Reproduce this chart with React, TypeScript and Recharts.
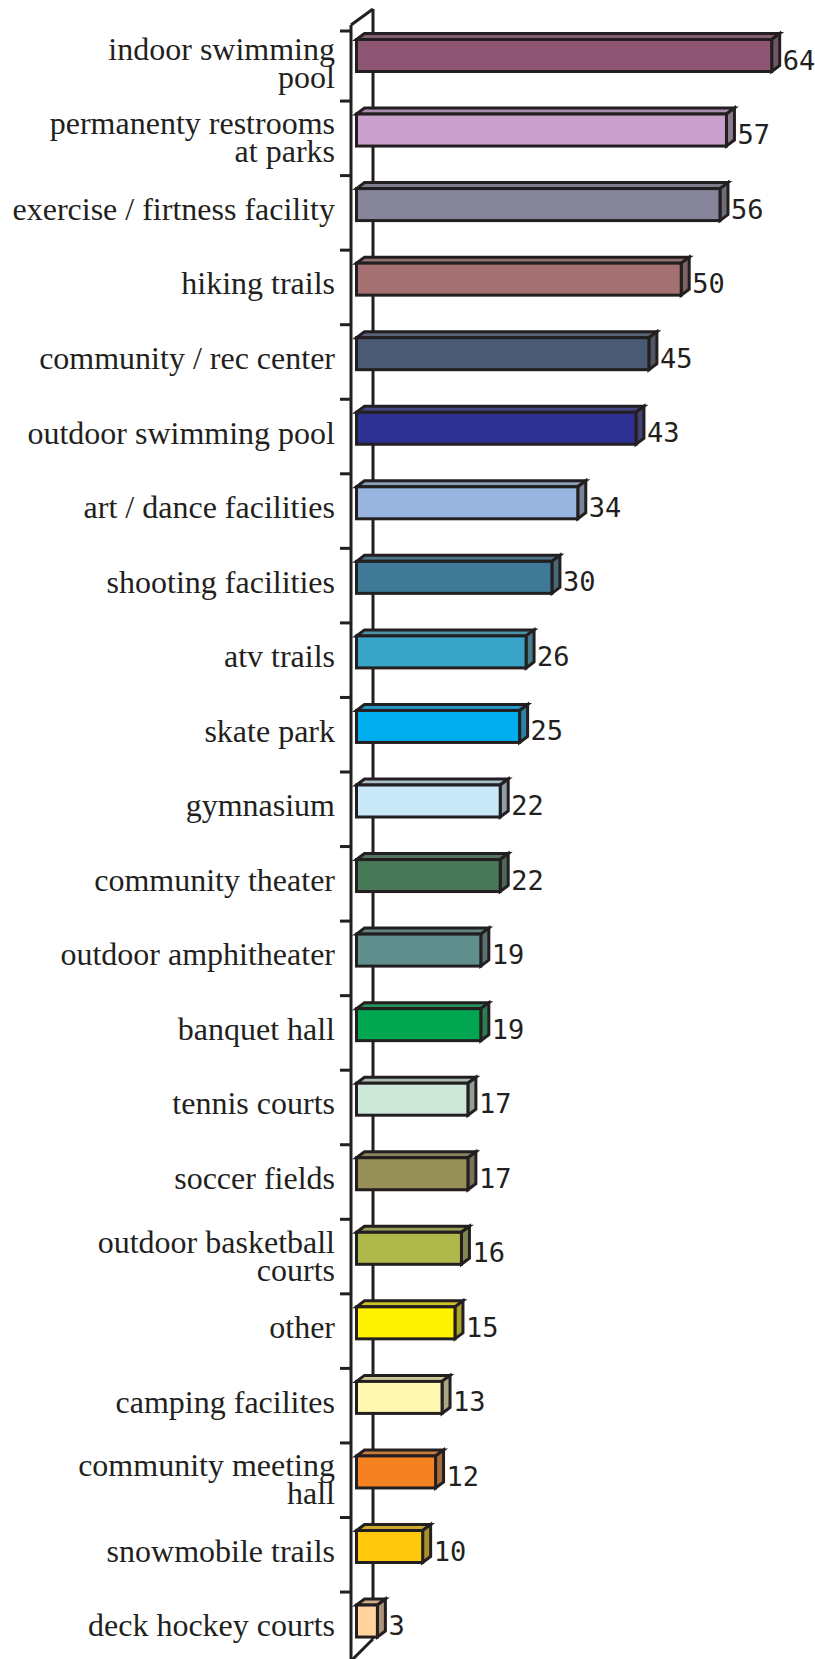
import React from "react";
import { Bar, BarChart, Customized, LabelList, XAxis, YAxis } from "recharts";

const categories = [
  "indoor swimming\npool",
  "permanenty restrooms\nat parks",
  "exercise / firtness facility",
  "hiking trails",
  "community / rec center",
  "outdoor swimming pool",
  "art / dance facilities",
  "shooting facilities",
  "atv trails",
  "skate park",
  "gymnasium",
  "community theater",
  "outdoor amphitheater",
  "banquet hall",
  "tennis courts",
  "soccer fields",
  "outdoor basketball\ncourts",
  "other",
  "camping facilites",
  "community meeting\nhall",
  "snowmobile trails",
  "deck hockey courts",
];

const votes = [64, 57, 56, 50, 45, 43, 34, 30, 26, 25, 22, 22, 19, 19, 17, 17, 16, 15, 13, 12, 10, 3];

const barColors = [
  "#8e5672", "#c9a0cc", "#868499", "#a47072", "#4a5a74", "#2e3192",
  "#96b4de", "#3e7a96", "#38a4c8", "#00aeef", "#c8e8f8", "#477858",
  "#5f8e8c", "#00a650", "#cde8d8", "#969058", "#afb84a", "#fff200",
  "#fff8b0", "#f58220", "#ffc80a", "#ffd29e",
];

const data = categories.map((name, i) => ({ name, value: votes[i] }));

const INK = "#231f20";
const W = 815;
const H = 1680;
const TOP = 26.5;
const BOTTOM = 13.4;
const AXIS_W = 358;
const BAND = (H - TOP - BOTTOM) / categories.length;
const DEPTH_X = 8;
const DEPTH_Y = 6;
const LIFT = 8; // bars sit a little above the middle of their band

function blend(hex: string, other: string, t: number) {
  const a = parseInt(hex.slice(1), 16);
  const b = parseInt(other.slice(1), 16);
  const ch = (v: number, s: number) => (v >> s) & 255;
  const mix = (s: number) => Math.round(ch(a, s) * (1 - t) + ch(b, s) * t);
  return `rgb(${mix(16)},${mix(8)},${mix(0)})`;
}

function Bar3D(props: any) {
  const { x, y, width, height, index } = props;
  const color = barColors[index];
  const fx = x - 1.5;
  const fy = y - LIFT;
  const fw = width + 1.5;
  const fh = height;
  const top = `${fx},${fy} ${fx + DEPTH_X},${fy - DEPTH_Y} ${fx + fw + DEPTH_X},${fy - DEPTH_Y} ${fx + fw},${fy}`;
  const side = `${fx + fw},${fy} ${fx + fw + DEPTH_X},${fy - DEPTH_Y} ${fx + fw + DEPTH_X},${fy + fh - DEPTH_Y} ${fx + fw},${fy + fh}`;
  return (
    <g stroke={INK} strokeWidth={3} strokeLinejoin="miter">
      <polygon points={top} fill={blend(color, "#707070", 0.35)} />
      <polygon points={side} fill={blend(color, "#555555", 0.5)} />
      <rect x={fx} y={fy} width={fw} height={fh} fill={color} />
    </g>
  );
}

function ValueLabel(props: any) {
  const { x, y, width, value } = props;
  return (
    <text
      x={x + width + 11}
      y={y - LIFT + 16 + 14}
      fill={INK}
      fontSize={27}
      fontFamily="DejaVu Sans Mono, monospace"
    >
      {value}
    </text>
  );
}

function CategoryTick(props: any) {
  const { y, payload } = props;
  const lines = String(payload.value).split("\n");
  const style = { fontFamily: "Liberation Serif, serif", fontSize: 32, fill: INK };
  if (lines.length === 1) {
    return (
      <text x={335} y={y + 7} textAnchor="end" {...style}>
        {lines[0]}
      </text>
    );
  }
  return (
    <g>
      <text x={335} y={y - 4} textAnchor="end" {...style}>{lines[0]}</text>
      <text x={335} y={y + 24} textAnchor="end" {...style}>{lines[1]}</text>
    </g>
  );
}

function Walls() {
  const ticks = [];
  for (let k = 0; k <= categories.length; k++) {
    const ty = k === 0 ? 31 : TOP + k * BAND;
    ticks.push(<line key={k} x1={340} x2={351} y1={ty} y2={ty} />);
  }
  return (
    <g stroke={INK} strokeWidth={3} fill="none">
      <line x1={373} y1={9} x2={373} y2={1639} />
      <line x1={373} y1={9} x2={351} y2={25} />
      <line x1={373} y1={1639} x2={351} y2={1661} />
      <line x1={351} y1={25} x2={351} y2={H} />
      {ticks}
    </g>
  );
}

export default function App() {
  return (
    <div style={{ position: "absolute", left: 0, top: 0, width: W, height: 1659, overflow: "hidden", background: "#fff" }}>
      <BarChart
        width={W}
        height={H}
        data={data}
        layout="vertical"
        margin={{ top: TOP, right: 0, bottom: BOTTOM, left: 0 }}
      >
        <XAxis type="number" domain={[0, 70.7]} hide />
        <YAxis
          type="category"
          dataKey="name"
          width={AXIS_W}
          axisLine={false}
          tickLine={false}
          interval={0}
          tick={<CategoryTick />}
        />
        <Customized component={Walls} />
        <Bar dataKey="value" barSize={32} shape={<Bar3D />} isAnimationActive={false}>
          <LabelList dataKey="value" content={<ValueLabel />} />
        </Bar>
      </BarChart>
    </div>
  );
}
